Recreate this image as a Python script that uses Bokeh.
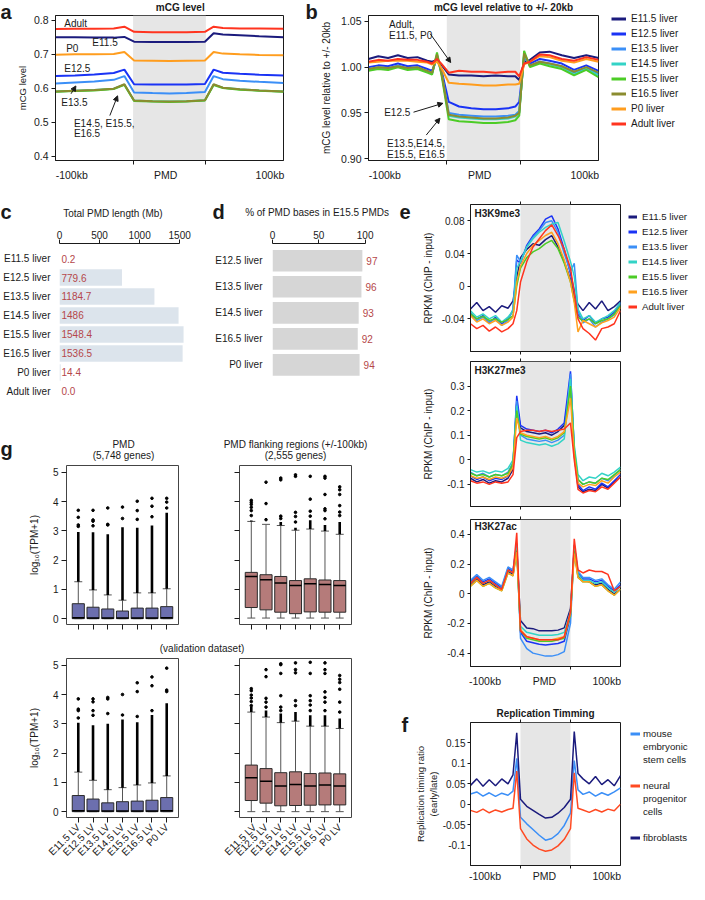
import math
from bokeh.plotting import figure
from bokeh.models import (Range1d, FixedTicker, LinearAxis, Label, Legend, LegendItem,
                          BoxAnnotation, Arrow, NormalHead, Div, Spacer)
from bokeh.layouts import row, column
from bokeh.core.properties import value
from bokeh.embed import file_html
from bokeh.resources import INLINE

FONT = "Liberation Sans"
INK = "#1a1a1a"
SHADE = "#e6e6e6"
VAL_RED = "#b5474a"

# ======================= DATA =======================
# ---- panels a / b : mCG profiles (profile bins; PMD covers bins 16..31) ----
PMD_A = (16, 31)
XA = [0, 4, 8, 12, 14.2, 16.2, 20, 23.5, 27, 30.8, 32.6, 34.5, 38, 42, 47]
mcg_e115 = [0.750, 0.750, 0.749, 0.749, 0.751, 0.737, 0.736, 0.736, 0.736, 0.737, 0.762, 0.758, 0.756, 0.753, 0.750]
mcg_e125 = [0.636, 0.638, 0.641, 0.645, 0.655, 0.612, 0.611, 0.611, 0.611, 0.613, 0.655, 0.646, 0.643, 0.640, 0.638]
mcg_e135 = [0.614, 0.617, 0.620, 0.625, 0.636, 0.588, 0.586, 0.585, 0.586, 0.589, 0.636, 0.627, 0.622, 0.619, 0.616]
mcg_e145 = [0.591, 0.593, 0.595, 0.599, 0.611, 0.564, 0.562, 0.561, 0.562, 0.565, 0.611, 0.602, 0.597, 0.594, 0.591]
mcg_e155 = [0.590, 0.592, 0.594, 0.598, 0.610, 0.563, 0.561, 0.560, 0.561, 0.564, 0.610, 0.601, 0.596, 0.593, 0.590]
mcg_e165 = [0.591, 0.593, 0.595, 0.599, 0.612, 0.564, 0.562, 0.561, 0.562, 0.565, 0.612, 0.602, 0.597, 0.594, 0.591]
mcg_p0 = [0.699, 0.700, 0.700, 0.701, 0.707, 0.682, 0.681, 0.680, 0.681, 0.682, 0.707, 0.702, 0.700, 0.698, 0.697]
mcg_adult = [0.774, 0.775, 0.775, 0.776, 0.781, 0.766, 0.765, 0.765, 0.765, 0.766, 0.781, 0.777, 0.776, 0.776, 0.775]

XB = [0, 2, 4, 6, 8, 10, 12, 13, 14, 15, 16.4, 18.5, 21, 23.5, 26, 28.5, 30, 30.8, 31.8, 33, 35, 37, 39.5, 42, 44.5, 47]
rel_e115 = [1.009, 1.012, 1.010, 1.013, 1.010, 1.011, 1.007, 1.006, 1.008, 1.002, 0.992, 0.991, 0.991, 0.990, 0.991, 0.990, 0.990, 0.986, 1.005, 1.008, 1.016, 1.017, 1.013, 1.010, 1.013, 1.010]
rel_e125 = [1.000, 1.002, 1.001, 1.004, 1.001, 1.002, 0.998, 0.996, 1.010, 0.995, 0.962, 0.957, 0.955, 0.954, 0.954, 0.955, 0.957, 0.962, 1.010, 1.004, 1.009, 1.007, 1.004, 0.997, 1.002, 0.996]
rel_e135 = [0.998, 1.000, 0.999, 1.002, 0.999, 1.000, 0.996, 0.994, 1.012, 0.992, 0.950, 0.948, 0.947, 0.946, 0.946, 0.947, 0.948, 0.952, 1.013, 1.002, 1.006, 1.004, 1.001, 0.994, 0.999, 0.993]
rel_e145 = [0.997, 0.999, 0.998, 1.001, 0.998, 0.999, 0.995, 0.993, 1.012, 0.991, 0.947, 0.945, 0.944, 0.943, 0.943, 0.944, 0.946, 0.950, 1.014, 1.001, 1.005, 1.003, 1.000, 0.992, 0.998, 0.991]
rel_e155 = [0.996, 0.998, 0.997, 1.000, 0.997, 0.998, 0.994, 0.992, 1.016, 0.989, 0.943, 0.941, 0.940, 0.939, 0.939, 0.940, 0.942, 0.947, 1.018, 1.000, 1.004, 1.001, 0.998, 0.991, 0.997, 0.989]
rel_e165 = [0.998, 1.000, 0.999, 1.001, 0.999, 1.000, 0.996, 0.994, 1.014, 0.992, 0.948, 0.946, 0.945, 0.944, 0.944, 0.945, 0.947, 0.950, 1.015, 1.002, 1.006, 1.004, 1.001, 0.995, 1.000, 0.994]
rel_p0 = [1.005, 1.006, 1.007, 1.007, 1.007, 1.006, 1.005, 1.003, 1.006, 0.998, 0.983, 0.982, 0.981, 0.980, 0.980, 0.981, 0.981, 0.982, 1.003, 1.006, 1.012, 1.011, 1.007, 1.005, 1.009, 1.006]
rel_adult = [1.006, 1.008, 1.007, 1.009, 1.008, 1.008, 1.006, 1.004, 1.009, 1.003, 0.994, 0.996, 0.995, 0.995, 0.994, 0.995, 0.995, 0.990, 1.004, 1.006, 1.014, 1.013, 1.009, 1.007, 1.011, 1.008]

stages_ab = ["E11.5 liver", "E12.5 liver", "E13.5 liver", "E14.5 liver", "E15.5 liver",
             "E16.5 liver", "P0 liver", "Adult liver"]

# ---- panel c ----
pmd_len_samples = ["E11.5 liver", "E12.5 liver", "E13.5 liver", "E14.5 liver", "E15.5 liver",
                   "E16.5 liver", "P0 liver", "Adult liver"]
pmd_len_mb = [0.2, 779.6, 1184.7, 1486, 1548.4, 1536.5, 14.4, 0.0]
pmd_len_text = ["0.2", "779.6", "1184.7", "1486", "1548.4", "1536.5", "14.4", "0.0"]

# ---- panel d ----
overlap_samples = ["E12.5 liver", "E13.5 liver", "E14.5 liver", "E16.5 liver", "P0 liver"]
overlap_pct = [97, 96, 93, 92, 94]

# ---- panels e / f : profiles (bins; PMD covers 20..40) ----
PMD_E = (20, 40)
XE = [0, 2.5, 5, 7.5, 10, 12.5, 15, 17, 18.5, 20, 22.5, 25, 27.5, 30, 32.5, 35, 37.5, 40,
      41.5, 43, 45, 47.5, 50, 52.5, 55, 57.5, 60]
stages_e = ["E11.5 liver", "E12.5 liver", "E13.5 liver", "E14.5 liver", "E15.5 liver",
            "E16.5 liver", "Adult liver"]

k9_e115 = [-0.028, -0.020, -0.030, -0.025, -0.032, -0.024, -0.027, -0.018, 0.010, 0.035, 0.045, 0.052, 0.050, 0.057, 0.062, 0.048, 0.030, 0.008, -0.012, -0.022, -0.030, -0.020, -0.028, -0.018, -0.030, -0.025, -0.018]
k9_e125 = [-0.035, -0.040, -0.036, -0.045, -0.038, -0.046, -0.040, -0.030, 0.032, 0.028, 0.050, 0.062, 0.070, 0.082, 0.086, 0.070, 0.045, 0.015, -0.005, -0.035, -0.042, -0.036, -0.046, -0.040, -0.038, -0.032, -0.020]
k9_e135 = [-0.032, -0.042, -0.038, -0.044, -0.040, -0.048, -0.042, -0.028, 0.038, 0.030, 0.048, 0.060, 0.068, 0.078, 0.080, 0.066, 0.040, 0.018, 0.028, -0.030, -0.045, -0.040, -0.050, -0.044, -0.040, -0.035, -0.022]
k9_e145 = [-0.030, -0.038, -0.034, -0.040, -0.036, -0.044, -0.038, -0.030, 0.022, 0.030, 0.048, 0.058, 0.066, 0.072, 0.076, 0.078, 0.055, 0.030, 0.012, -0.028, -0.040, -0.036, -0.044, -0.040, -0.036, -0.030, -0.020]
k9_e155 = [-0.034, -0.040, -0.037, -0.042, -0.040, -0.044, -0.041, -0.036, 0.000, 0.022, 0.035, 0.042, 0.046, 0.052, 0.056, 0.046, 0.028, 0.005, -0.018, -0.038, -0.043, -0.040, -0.046, -0.042, -0.040, -0.034, -0.024]
k9_e165 = [-0.036, -0.044, -0.040, -0.046, -0.042, -0.048, -0.044, -0.038, 0.005, 0.025, 0.040, 0.050, 0.056, 0.062, 0.066, 0.052, 0.032, 0.005, -0.020, -0.056, -0.042, -0.046, -0.050, -0.045, -0.042, -0.038, -0.026]
k9_adult = [-0.046, -0.052, -0.048, -0.055, -0.050, -0.056, -0.052, -0.046, -0.030, 0.005, 0.030, 0.048, 0.058, 0.068, 0.075, 0.062, 0.045, 0.022, -0.008, -0.040, -0.052, -0.058, -0.066, -0.052, -0.050, -0.046, -0.030]

k27m_e115 = [-0.075, -0.090, -0.080, -0.095, -0.085, -0.090, -0.075, -0.040, 0.230, 0.130, 0.115, 0.110, 0.105, 0.110, 0.100, 0.115, 0.140, 0.310, 0.020, -0.110, -0.130, -0.120, -0.125, -0.100, -0.115, -0.090, -0.070]
k27m_e125 = [-0.065, -0.080, -0.070, -0.085, -0.075, -0.080, -0.065, -0.020, 0.260, 0.140, 0.125, 0.120, 0.115, 0.120, 0.110, 0.125, 0.150, 0.360, 0.040, -0.100, -0.125, -0.110, -0.120, -0.095, -0.110, -0.085, -0.060]
k27m_e135 = [-0.050, -0.065, -0.055, -0.070, -0.060, -0.065, -0.050, -0.010, 0.240, 0.100, 0.085, 0.080, 0.075, 0.080, 0.070, 0.080, 0.100, 0.350, 0.050, -0.080, -0.100, -0.090, -0.095, -0.075, -0.085, -0.065, -0.040]
k27m_e145 = [-0.040, -0.050, -0.045, -0.055, -0.045, -0.050, -0.035, 0.000, 0.220, 0.080, 0.070, 0.065, 0.060, 0.065, 0.055, 0.065, 0.085, 0.330, 0.060, -0.060, -0.085, -0.070, -0.075, -0.055, -0.065, -0.050, -0.030]
k27m_e155 = [-0.055, -0.065, -0.060, -0.070, -0.060, -0.065, -0.055, -0.015, 0.200, 0.105, 0.095, 0.090, 0.085, 0.090, 0.080, 0.090, 0.110, 0.300, 0.040, -0.080, -0.100, -0.090, -0.095, -0.075, -0.080, -0.060, -0.040]
k27m_e165 = [-0.065, -0.075, -0.070, -0.080, -0.070, -0.075, -0.065, -0.030, 0.170, 0.110, 0.100, 0.095, 0.090, 0.095, 0.085, 0.095, 0.115, 0.250, 0.020, -0.095, -0.110, -0.100, -0.105, -0.085, -0.095, -0.070, -0.050]
k27m_adult = [-0.085, -0.095, -0.090, -0.100, -0.090, -0.095, -0.090, -0.060, 0.090, 0.115, 0.120, 0.120, 0.115, 0.120, 0.115, 0.120, 0.125, 0.150, 0.000, -0.120, -0.135, -0.125, -0.130, -0.110, -0.120, -0.095, -0.070]

k27a_e115 = [0.06, 0.10, 0.06, 0.08, 0.05, 0.03, 0.15, 0.13, 0.30, -0.18, -0.23, -0.235, -0.25, -0.25, -0.25, -0.245, -0.23, -0.10, 0.30, 0.12, 0.09, 0.08, 0.06, 0.07, 0.03, 0.00, 0.03]
k27a_e125 = [0.08, 0.12, 0.08, 0.10, 0.07, 0.04, 0.17, 0.15, 0.34, -0.26, -0.32, -0.33, -0.34, -0.345, -0.34, -0.335, -0.32, -0.15, 0.33, 0.14, 0.10, 0.10, 0.08, 0.09, 0.05, 0.02, 0.06]
k27a_e135 = [0.09, 0.13, 0.09, 0.11, 0.08, 0.05, 0.18, 0.16, 0.33, -0.30, -0.37, -0.40, -0.41, -0.42, -0.42, -0.41, -0.39, -0.20, 0.32, 0.15, 0.11, 0.11, 0.09, 0.10, 0.06, 0.03, 0.08]
k27a_e145 = [0.07, 0.11, 0.07, 0.09, 0.06, 0.03, 0.16, 0.14, 0.31, -0.22, -0.26, -0.27, -0.28, -0.28, -0.28, -0.275, -0.26, -0.12, 0.31, 0.13, 0.09, 0.09, 0.07, 0.08, 0.04, 0.01, 0.05]
k27a_e155 = [0.05, 0.09, 0.05, 0.07, 0.04, 0.02, 0.14, 0.12, 0.29, -0.25, -0.30, -0.31, -0.32, -0.32, -0.32, -0.31, -0.30, -0.14, 0.29, 0.11, 0.08, 0.08, 0.05, 0.06, 0.02, -0.01, 0.03]
k27a_e165 = [0.05, 0.09, 0.05, 0.07, 0.04, 0.02, 0.14, 0.12, 0.28, -0.24, -0.29, -0.30, -0.31, -0.31, -0.31, -0.30, -0.29, -0.13, 0.27, 0.11, 0.08, 0.08, 0.05, 0.06, 0.02, -0.01, 0.03]
k27a_adult = [0.07, 0.11, 0.07, 0.09, 0.06, 0.03, 0.16, 0.14, 0.41, -0.25, -0.29, -0.30, -0.31, -0.31, -0.31, -0.31, -0.29, -0.12, 0.37, 0.16, 0.14, 0.16, 0.15, 0.15, 0.13, 0.02, 0.05]

rt_legend_lines = ["mouse", "embryonic", "stem cells", " ", "neural", "progenitor", "cells", " ", "fibroblasts"]
rt_mesc = [0.025, 0.030, 0.020, 0.028, 0.019, 0.027, 0.022, 0.032, 0.112, -0.032, -0.048, -0.062, -0.076, -0.088, -0.084, -0.072, -0.052, -0.022, 0.107, 0.035, 0.024, 0.030, 0.020, 0.028, 0.022, 0.030, 0.040]
rt_npc = [-0.015, -0.020, -0.012, -0.021, -0.014, -0.019, -0.013, -0.010, 0.081, -0.060, -0.085, -0.100, -0.110, -0.115, -0.112, -0.102, -0.086, -0.060, 0.077, -0.010, -0.014, -0.020, -0.013, -0.019, -0.012, -0.016, 0.000]
rt_fibro = [0.046, 0.062, 0.044, 0.060, 0.045, 0.062, 0.050, 0.072, 0.175, 0.012, -0.005, -0.015, -0.025, -0.034, -0.032, -0.022, -0.008, 0.012, 0.178, 0.075, 0.062, 0.050, 0.068, 0.048, 0.060, 0.045, 0.070]

# ---- panel g : box plots (log10 TPM+1) ----
g_samples = ["E11.5 LV", "E12.5 LV", "E13.5 LV", "E14.5 LV", "E15.5 LV", "E16.5 LV", "P0 LV"]

pmd_q1 = [0, 0, 0, 0, 0, 0, 0]
pmd_med = [0.03, 0.02, 0.02, 0.02, 0.02, 0.02, 0.03]
pmd_q3 = [0.51, 0.39, 0.33, 0.26, 0.36, 0.36, 0.41]
pmd_lo = [0, 0, 0, 0, 0, 0, 0]
pmd_hi = [1.26, 0.98, 0.81, 0.63, 0.88, 0.88, 1.02]
pmd_dense = [2.96, 2.95, 2.88, 3.12, 3.10, 3.18, 3.62]
pmd_out = [[3.15, 3.2, 3.46, 3.7], [3.17, 3.33, 3.37, 3.7], [3.2, 3.22, 3.78], [3.42, 3.81],
           [3.39, 3.69, 4.01], [3.48, 3.84, 4.11], [3.78, 3.98, 4.11]]

fl_q1 = [0.38, 0.30, 0.22, 0.17, 0.23, 0.22, 0.22]
fl_med = [1.44, 1.33, 1.22, 1.13, 1.19, 1.17, 1.13]
fl_q3 = [1.58, 1.50, 1.44, 1.30, 1.36, 1.32, 1.30]
fl_lo = [0.02, 0.02, 0.02, 0.02, 0.02, 0.02, 0.02]
fl_hi = [3.32, 3.22, 3.18, 3.02, 3.06, 2.99, 2.88]
fl_dense = [3.35, 3.22, 3.30, 3.10, 3.36, 3.20, 3.30]
fl_out = [[3.52, 3.69, 3.80, 3.90, 3.97, 4.04], [3.38, 3.93, 4.66], [3.42, 3.50, 4.74, 4.80],
          [3.30, 3.49, 3.63, 4.86, 4.91], [3.50, 3.67, 4.08, 4.86],
          [3.41, 3.69, 3.75, 4.24, 4.80, 4.86], [3.52, 3.64, 3.86, 4.24, 4.40, 4.50]]

vpmd_q1 = [0, 0, 0, 0, 0, 0, 0]
vpmd_med = [0.03, 0.02, 0.02, 0.02, 0.02, 0.02, 0.03]
vpmd_q3 = [0.55, 0.43, 0.30, 0.34, 0.36, 0.39, 0.48]
vpmd_lo = [0, 0, 0, 0, 0, 0, 0]
vpmd_hi = [1.35, 1.07, 0.75, 0.82, 0.91, 0.98, 1.22]
vpmd_dense = [3.04, 2.95, 3.00, 3.15, 3.05, 3.30, 3.70]
vpmd_out = [[3.20, 3.45, 3.50, 3.85], [3.29, 3.45, 3.75, 3.85], [3.35, 3.85, 3.90], [3.30, 4.00],
            [3.25, 4.10, 4.40], [3.45, 4.30, 4.60], [4.10, 4.15, 4.90]]

vfl_q1 = [0.38, 0.29, 0.20, 0.21, 0.22, 0.23, 0.23]
vfl_med = [1.16, 1.04, 0.88, 0.93, 0.88, 0.91, 0.88]
vfl_q3 = [1.59, 1.47, 1.33, 1.36, 1.30, 1.32, 1.29]
vfl_lo = [0, 0, 0, 0, 0, 0, 0]
vfl_hi = [3.40, 3.23, 3.04, 3.09, 2.92, 2.92, 2.84]
vfl_dense = [3.57, 3.45, 3.35, 3.40, 3.29, 3.29, 3.18]
vfl_out = [[3.62, 3.76, 3.88, 3.98, 4.13, 4.20], [3.57, 3.74, 3.87, 4.61, 4.85],
           [3.45, 3.57, 3.96, 4.72, 5.02, 5.05], [3.62, 3.79, 4.74, 4.85, 5.08],
           [3.45, 3.64, 3.79, 3.96, 4.72, 5.10], [3.45, 3.74, 3.90, 4.09, 4.72, 4.85, 5.08],
           [3.40, 3.74, 4.18, 4.41, 4.52, 4.65]]

for arr in [mcg_e115, mcg_e125, mcg_e135, mcg_e145, mcg_e155, mcg_e165, mcg_p0, mcg_adult]:
    assert len(arr) == len(XA)
for arr in [rel_e115, rel_e125, rel_e135, rel_e145, rel_e155, rel_e165, rel_p0, rel_adult]:
    assert len(arr) == len(XB)
for arr in [k9_e115, k9_e125, k9_e135, k9_e145, k9_e155, k9_e165, k9_adult,
            k27m_e115, k27m_e125, k27m_e135, k27m_e145, k27m_e155, k27m_e165, k27m_adult,
            k27a_e115, k27a_e125, k27a_e135, k27a_e145, k27a_e155, k27a_e165, k27a_adult,
            rt_mesc, rt_npc, rt_fibro]:
    assert len(arr) == len(XE)

# ======================= STYLE =======================
C_E115 = "#1b1b7d"
C_E125 = "#1a33f5"
C_E135 = "#3b8ff7"
C_E145 = "#33d3c6"
C_E155 = "#4ccc26"
C_E165 = "#8b8c2f"
C_E165_E = "#ffa11f"
C_P0 = "#ff9d1e"
C_AD = "#ff341f"
COL_AB = [C_E115, C_E125, C_E135, C_E145, C_E155, C_E165, C_P0, C_AD]
COL_E = [C_E115, C_E125, C_E135, C_E145, C_E155, C_E165_E, C_AD]
COL_F = ["#3b8ff7", "#ff4a22", "#1b1b7d"]
BOX_BLUE = "#6c6fae"
BOX_BROWN = "#b57b7a"

# figure geometry (canvas position in page content, borders)
G = {
    "a":   dict(x0=13,  y0=15,  w=287, h=185, l=40, r=17, t=0,  b=40),
    "b":   dict(x0=318, y0=15,  w=281, h=185, l=50, r=1,  t=0,  b=40),
    "c":   dict(x0=0,   y0=222, w=212, h=208, l=57, r=28, t=18, b=30),
    "d":   dict(x0=212, y0=222, w=186, h=208, l=54, r=15, t=21, b=30),
    "gtl": dict(x0=0,   y0=462, w=222, h=178, l=66, r=44, t=3,  b=16),
    "gtr": dict(x0=222, y0=462, w=176, h=178, l=17, r=47, t=3,  b=16),
    "gbl": dict(x0=0,   y0=656, w=222, h=228, l=66, r=44, t=2,  b=67),
    "gbr": dict(x0=222, y0=656, w=176, h=228, l=17, r=47, t=2,  b=67),
    "e1":  dict(x0=411, y0=200, w=210, h=156, l=54, r=1,  t=4,  b=5),
    "e2":  dict(x0=411, y0=356, w=210, h=156, l=54, r=1,  t=5,  b=6),
    "e3":  dict(x0=411, y0=512, w=210, h=188, l=54, r=1,  t=7,  b=34),
    "f":   dict(x0=411, y0=700, w=210, h=184, l=54, r=1,  t=22, b=17),
}
# text strips / legend boxes: plain canvases (frame == canvas)
S = {
    "leta": dict(x0=0,   y0=0,   w=13,  h=200),
    "topa": dict(x0=13,  y0=0,   w=287, h=15),
    "letb": dict(x0=300, y0=0,   w=18,  h=200),
    "topb": dict(x0=318, y0=0,   w=281, h=15),
    "legb": dict(x0=599, y0=0,   w=90,  h=200),
    "cd":   dict(x0=0,   y0=200, w=398, h=22),
    "g":    dict(x0=0,   y0=430, w=398, h=32),
    "ef":   dict(x0=398, y0=200, w=13,  h=684),
    "lege": dict(x0=621, y0=200, w=68,  h=156),
    "legf": dict(x0=621, y0=700, w=68,  h=184),
}
LETTER_MID = 6.9  # distance baseline -> middle for the 20px panel letters


def mkfig(g, xr, yr, outline=True, x_loc="below"):
    p = figure(width=g["w"], height=g["h"], x_range=xr, y_range=yr,
               min_border_left=g["l"], min_border_right=g["r"],
               min_border_top=g["t"], min_border_bottom=g["b"],
               toolbar_location=None, tools="", output_backend="svg",
               x_axis_location=x_loc)
    p.xgrid.visible = False
    p.ygrid.visible = False
    p.outline_line_color = INK if outline else None
    p.outline_line_width = 1
    p.border_fill_color = "white"
    p.background_fill_color = "white"
    return p


def mkstrip(s):
    p = figure(width=s["w"], height=s["h"], x_range=Range1d(0, s["w"]), y_range=Range1d(s["h"], 0),
               min_border=0, min_border_left=0, min_border_right=0, min_border_top=0,
               min_border_bottom=0, x_axis_location=None, y_axis_location=None,
               toolbar_location=None, tools="", output_backend="svg")
    p.outline_line_color = None
    p.xgrid.visible = False
    p.ygrid.visible = False
    p.border_fill_color = "white"
    p.background_fill_color = "white"
    return p


def stext(p, s, text, cx, cy, size="10px", bold=False, align="left"):
    p.add_layout(Label(x=cx - s["x0"], y=cy - s["y0"], text=text, text_font=FONT,
                       text_font_size=size, text_font_style="bold" if bold else "normal",
                       text_align=align, text_baseline="middle", text_color=INK))


def letter(p, s, text, cx, baseline_y):
    stext(p, s, text, cx, baseline_y - LETTER_MID, size="20px", bold=True)


def axstyle(ax, size="10px"):
    ax.major_label_text_font = FONT
    ax.major_label_text_font_size = size
    ax.major_label_text_color = INK
    ax.axis_label_text_font = FONT
    ax.axis_label_text_font_style = "normal"
    ax.axis_label_text_color = INK
    ax.axis_line_color = INK
    ax.major_tick_line_color = INK
    ax.minor_tick_line_color = INK
    ax.major_tick_in = 0
    ax.minor_tick_in = 0


def put(p, g, text, cx, cy, size="10px", bold=False, align="left"):
    # label inside the frame, given page-content coordinates
    sx = cx - (g["x0"] + g["l"])
    sy = (g["y0"] + g["h"] - g["b"]) - cy
    p.add_layout(Label(x=sx, y=sy, x_units="screen", y_units="screen", text=text,
                       text_font=FONT, text_font_size=size,
                       text_font_style="bold" if bold else "normal",
                       text_align=align, text_baseline="middle", text_color=INK))


def dlabel(p, text, x, y):
    p.add_layout(Label(x=x, y=y, text=text, text_font=FONT, text_font_size="10px",
                       text_align="left", text_baseline="middle", text_color=INK))


def darrow(p, x0, y0, x1, y1):
    p.add_layout(Arrow(end=NormalHead(size=5, fill_color=INK, line_color=INK, line_width=1),
                       x_start=x0, y_start=y0, x_end=x1, y_end=y1,
                       line_color=INK, line_width=1))


def legend_box(s, labels, colors, vx, first_center_y, glyph_w, item_h=15, standoff=5,
               size="10px", line_w=3):
    p = mkstrip(s)
    rends = []
    for c in colors:
        # swatch-only renderers (a single anchor point draws no line in the box itself)
        if c is None:
            rends.append(p.line(x=[0], y=[0], line_alpha=0))
        else:
            rends.append(p.line(x=[0], y=[0], line_color=c, line_width=line_w))
    items = [LegendItem(label=l, renderers=[r]) for l, r in zip(labels, rends)]
    n = len(items)
    top = first_center_y - s["y0"] - item_h / 2.0
    vy = s["h"] - top - n * item_h
    lg = Legend(items=items, location=(vx - s["x0"], vy), orientation="vertical", padding=0,
                margin=0, spacing=0, glyph_width=glyph_w, glyph_height=item_h,
                label_height=item_h, label_standoff=standoff, label_text_font=FONT,
                label_text_font_size=size, label_text_color=INK, border_line_color=None,
                background_fill_alpha=0.0)
    p.add_layout(lg)
    return p


def profile_xaxis(p, pmd, label_ticks, labels, standoff, size="10.5px", tick_len=4):
    xa = p.xaxis[0]
    axstyle(xa, size)
    xa.ticker = FixedTicker(ticks=label_ticks, minor_ticks=list(pmd))
    if labels:
        xa.major_label_overrides = dict(zip(label_ticks, labels))
    xa.major_tick_out = 0
    xa.minor_tick_out = tick_len
    xa.major_label_standoff = standoff


# ======================= TEXT STRIPS =======================
st_leta = mkstrip(S["leta"])
letter(st_leta, S["leta"], "a", 0, 18)
st_topa = mkstrip(S["topa"])
stext(st_topa, S["topa"], "mCG level", 170, 6.5, bold=True, align="center")
st_letb = mkstrip(S["letb"])
letter(st_letb, S["letb"], "b", 305, 18)
st_topb = mkstrip(S["topb"])
stext(st_topb, S["topb"], "mCG level relative to +/- 20kb", 483, 6.5, bold=True, align="center")

st_cd = mkstrip(S["cd"])
letter(st_cd, S["cd"], "c", 0, 218)
stext(st_cd, S["cd"], "Total PMD length (Mb)", 112.4, 213, align="center")
letter(st_cd, S["cd"], "d", 212, 218)
stext(st_cd, S["cd"], "% of PMD bases in E15.5 PMDs", 316.6, 212, align="center")

st_g = mkstrip(S["g"])
letter(st_g, S["g"], "g", 0, 455.5)
stext(st_g, S["g"], "PMD", 123, 443.5, align="center")
stext(st_g, S["g"], "(5,748 genes)", 123, 454.5, align="center")
stext(st_g, S["g"], "PMD flanking regions (+/-100kb)", 295, 443.5, align="center")
stext(st_g, S["g"], "(2,555 genes)", 295, 454.5, align="center")

st_ef = mkstrip(S["ef"])
letter(st_ef, S["ef"], "e", 399, 218)
letter(st_ef, S["ef"], "f", 401, 731.5)

# ======================= PANEL a =======================
ga = G["a"]
fa = mkfig(ga, Range1d(0, 47), Range1d(0.388, 0.814))
fa.add_layout(BoxAnnotation(left=PMD_A[0], right=PMD_A[1], fill_color=SHADE, fill_alpha=1.0,
                            line_color=None, level="underlay"))
for ys, col in zip([mcg_e115, mcg_e125, mcg_e135, mcg_e145, mcg_e155, mcg_e165, mcg_p0, mcg_adult], COL_AB):
    fa.line(XA, ys, line_color=col, line_width=2)
profile_xaxis(fa, PMD_A, [3.35, 22.7, 44.2], ["-100kb", "PMD", "100kb"], 4)
ya = fa.yaxis[0]
axstyle(ya, "10.5px")
ya.ticker = FixedTicker(ticks=[0.4, 0.5, 0.6, 0.7, 0.8])
ya.major_label_overrides = {0.4: "0.4", 0.5: "0.5", 0.6: "0.6", 0.7: "0.7", 0.8: "0.8"}
ya.major_tick_out = 4
ya.major_label_standoff = 3
ya.axis_label = "mCG level"
ya.axis_label_text_font_size = "9.5px"
ya.axis_label_standoff = 3
dlabel(fa, "Adult", 1.8, 0.791)
dlabel(fa, "E11.5", 7.6, 0.734)
dlabel(fa, "P0", 2.2, 0.716)
dlabel(fa, "E12.5", 1.8, 0.659)
dlabel(fa, "E13.5", 1.2, 0.558)
dlabel(fa, "E14.5, E15.5,", 3.8, 0.497)
dlabel(fa, "E16.5", 3.8, 0.466)
darrow(fa, 3.2, 0.584, 4.2, 0.607)
darrow(fa, 11.2, 0.520, 12.8, 0.578)

# ======================= PANEL b =======================
gb = G["b"]
fb = mkfig(gb, Range1d(0, 47), Range1d(0.898, 1.0565))
fb.add_layout(BoxAnnotation(left=PMD_A[0], right=PMD_A[1], fill_color=SHADE, fill_alpha=1.0,
                            line_color=None, level="underlay"))
for ys, col in zip([rel_e115, rel_e125, rel_e135, rel_e145, rel_e155, rel_e165, rel_p0, rel_adult], COL_AB):
    fb.line(XB, ys, line_color=col, line_width=2)
profile_xaxis(fb, PMD_A, [3.35, 22.7, 44.2], ["-100kb", "PMD", "100kb"], 4)
yb = fb.yaxis[0]
axstyle(yb, "10.5px")
yb.ticker = FixedTicker(ticks=[0.9, 0.95, 1.0, 1.05])
yb.major_label_overrides = {0.9: "0.90", 0.95: "0.95", 1.0: "1.00", 1.05: "1.05"}
yb.major_tick_out = 4
yb.major_label_standoff = 3
yb.axis_label = "mCG level relative to +/- 20kb"
yb.axis_label_text_font_size = "10px"
yb.axis_label_standoff = 6
dlabel(fb, "Adult,", 4.2, 1.0472)
dlabel(fb, "E11.5, P0", 4.2, 1.0345)
darrow(fb, 12.6, 1.0366, 16.8, 1.0051)
dlabel(fb, "E12.5", 3.2, 0.950)
darrow(fb, 9.2, 0.9508, 15.2, 0.9605)
dlabel(fb, "E13.5,E14.5,", 3.8, 0.9167)
dlabel(fb, "E15.5, E16.5", 3.8, 0.905)
darrow(fb, 11.8, 0.9258, 14.6, 0.9442)
leg_b = legend_box(S["legb"], stages_ab, COL_AB, 611, 18.7, 15, item_h=15)

# ======================= PANEL c =======================
gc = G["c"]
fc = mkfig(gc, Range1d(0, 1560), Range1d(7.475, -0.79), outline=False, x_loc="above")
cy = list(range(len(pmd_len_samples)))
fc.hbar(y=cy, left=0, right=pmd_len_mb, height=0.86, fill_color="#dce4ec", line_color=None)
fc.text(x=[0] * len(cy), y=cy, text=pmd_len_text, x_offset=2, text_font=value(FONT),
        text_font_size="10px", text_color=VAL_RED, text_baseline="middle", text_align="left")
xc = fc.xaxis[0]
axstyle(xc, "10px")
xc.ticker = FixedTicker(ticks=[0, 500, 1000, 1500])
xc.bounds = (0, 1500)
xc.major_tick_out = 4
xc.major_label_standoff = 1
xc.minor_tick_line_color = None
yc = fc.yaxis[0]
axstyle(yc, "10px")
yc.ticker = FixedTicker(ticks=cy)
yc.major_label_overrides = dict(zip(cy, pmd_len_samples))
yc.axis_line_color = None
yc.major_tick_line_color = None
yc.minor_tick_line_color = None
yc.major_label_standoff = 3

# ======================= PANEL d =======================
gd = G["d"]
fd = mkfig(gd, Range1d(0, 119.8), Range1d(5.37, -0.665), outline=False, x_loc="above")
dy = list(range(len(overlap_samples)))
fd.hbar(y=dy, left=0, right=overlap_pct, height=0.83, fill_color="#d6d6d6", line_color=None)
fd.text(x=overlap_pct, y=dy, text=[str(v) for v in overlap_pct], x_offset=4,
        text_font=value(FONT), text_font_size="10px", text_color=VAL_RED,
        text_baseline="middle", text_align="left")
xd = fd.xaxis[0]
axstyle(xd, "10px")
xd.ticker = FixedTicker(ticks=[0, 50, 100])
xd.bounds = (0, 100)
xd.major_tick_out = 4
xd.major_label_standoff = 1
xd.minor_tick_line_color = None
yd = fd.yaxis[0]
axstyle(yd, "10px")
yd.ticker = FixedTicker(ticks=dy)
yd.major_label_overrides = dict(zip(dy, overlap_samples))
yd.axis_line_color = None
yd.major_tick_line_color = None
yd.minor_tick_line_color = None
yd.major_label_standoff = 4


# ======================= PANELS e / f =======================
def eprofile(g, yrange, yticks, ylabels, series, colors, xlabels, xstandoff):
    p = mkfig(g, Range1d(0, 60), Range1d(*yrange))
    p.add_layout(BoxAnnotation(left=PMD_E[0], right=PMD_E[1], fill_color=SHADE, fill_alpha=1.0,
                               line_color=None, level="underlay"))
    for ys, c in zip(series, colors):
        p.line(XE, ys, line_color=c, line_width=1.5)
    if xlabels:
        profile_xaxis(p, PMD_E, [5.8, 29.6, 54.5], ["-100kb", "PMD", "100kb"], xstandoff, tick_len=3)
    else:
        profile_xaxis(p, PMD_E, [], None, 0, tick_len=3)
        p.xaxis[0].major_label_text_font_size = "0px"
    top = LinearAxis(ticker=FixedTicker(ticks=[], minor_ticks=list(PMD_E)))
    axstyle(top)
    top.axis_line_color = None
    top.major_tick_out = 0
    top.minor_tick_out = 3
    top.major_label_standoff = 0
    top.major_label_text_font_size = "0px"
    p.add_layout(top, "above")
    yy = p.yaxis[0]
    axstyle(yy, "10px")
    yy.ticker = FixedTicker(ticks=yticks)
    yy.major_label_overrides = dict(zip(yticks, ylabels))
    yy.major_tick_out = 3
    yy.major_label_standoff = 3
    return p


ge1, ge2, ge3, gf = G["e1"], G["e2"], G["e3"], G["f"]
e1 = eprofile(ge1, (-0.08, 0.1), [-0.04, 0, 0.04, 0.08], ["-0.04", "0", "0.04", "0.08"],
              [k9_e115, k9_e125, k9_e135, k9_e145, k9_e155, k9_e165, k9_adult], COL_E, False, 0)
e1.yaxis[0].axis_label = "RPKM (ChIP - input)"
e1.yaxis[0].axis_label_text_font_size = "10px"
e1.yaxis[0].axis_label_standoff = 5
put(e1, ge1, "H3K9me3", 469, 213, bold=True)

e2 = eprofile(ge2, (-0.19, 0.4), [-0.1, 0, 0.1, 0.2, 0.3], ["-0.1", "0", "0.1", "0.2", "0.3"],
              [k27m_e115, k27m_e125, k27m_e135, k27m_e145, k27m_e155, k27m_e165, k27m_adult], COL_E, False, 0)
e2.yaxis[0].axis_label = "RPKM (ChIP - input)"
e2.yaxis[0].axis_label_text_font_size = "10px"
e2.yaxis[0].axis_label_standoff = 10
put(e2, ge2, "H3K27me3", 469, 370, bold=True)

e3 = eprofile(ge3, (-0.49, 0.5), [-0.4, -0.2, 0, 0.2, 0.4], ["-0.4", "-0.2", "0", "0.2", "0.4"],
              [k27a_e115, k27a_e125, k27a_e135, k27a_e145, k27a_e155, k27a_e165, k27a_adult], COL_E, True, 5)
e3.yaxis[0].axis_label = "RPKM (ChIP - input)"
e3.yaxis[0].axis_label_text_font_size = "10px"
e3.yaxis[0].axis_label_standoff = 10
put(e3, ge3, "H3K27ac", 469, 525.5, bold=True)

ff = eprofile(gf, (-0.15, 0.2), [-0.1, -0.05, 0, 0.05, 0.1, 0.15],
              ["-0.1", "-0.05", "0", "0.05", "0.1", "0.15"],
              [rt_mesc, rt_npc, rt_fibro], COL_F, True, 1)
ff.yaxis[0].major_label_standoff = 2
ff.yaxis[0].axis_label = "Replication timing ratio\n(early/late)"
ff.yaxis[0].axis_label_text_font_size = "9.5px"
ff.yaxis[0].axis_label_standoff = 1
ff.title.text = "Replication Timming"
ff.title.align = "center"
ff.title.text_font = FONT
ff.title.text_font_size = "10px"
ff.title.text_font_style = "bold"
ff.title.text_color = INK
ff.title.standoff = 2

leg_e = legend_box(S["lege"], stages_e, COL_E, 628, 216.1, 9, item_h=15, size="9.7px")
# replication legend: coloured rows name the series, blank-swatch rows continue the wrapped names
leg_f = legend_box(S["legf"], rt_legend_lines,
                   [COL_F[0], None, None, None, COL_F[1], None, None, None, COL_F[2]],
                   630, 733.7, 10, item_h=13, standoff=3, size="9.7px")


# ======================= PANEL g =======================
def boxfig(g, q1, med, q3, lo, hi, dense, outs, fill, ylabels, xlabels):
    p = mkfig(g, Range1d(0.2, 7.8), Range1d(-0.2, 5.23))
    p.outline_line_color = "#444444"
    xs = list(range(1, len(q1) + 1))
    half_box, half_cap = 0.41, 0.27
    wcol = "#555555"
    p.segment(x0=xs, y0=lo, x1=xs, y1=q1, line_color=wcol, line_width=1)
    p.segment(x0=xs, y0=q3, x1=xs, y1=hi, line_color=wcol, line_width=1)
    p.segment(x0=[x - half_cap for x in xs], y0=lo, x1=[x + half_cap for x in xs], y1=lo,
              line_color=wcol, line_width=1)
    p.segment(x0=[x - half_cap for x in xs], y0=hi, x1=[x + half_cap for x in xs], y1=hi,
              line_color=wcol, line_width=1)
    p.segment(x0=xs, y0=hi, x1=xs, y1=dense, line_color="black", line_width=2.6)
    p.vbar(x=xs, bottom=q1, top=q3, width=2 * half_box, fill_color=fill,
           line_color="#2a2a2a", line_width=1)
    p.segment(x0=[x - half_box for x in xs], y0=med, x1=[x + half_box for x in xs], y1=med,
              line_color="black", line_width=1.5)
    ox = [x for x, o in zip(xs, outs) for _ in o]
    oy = [v for o in outs for v in o]
    p.scatter(x=ox, y=oy, size=2.6, marker="circle", color="black")
    xa = p.xaxis[0]
    axstyle(xa, "10px")
    xa.ticker = FixedTicker(ticks=xs)
    xa.axis_line_color = None
    xa.major_tick_out = 5
    xa.minor_tick_line_color = None
    if xlabels:
        xa.major_label_overrides = dict(zip(xs, g_samples))
        xa.major_label_orientation = math.pi / 4
        xa.major_label_standoff = 3
    else:
        xa.major_label_overrides = {x: "" for x in xs}
        xa.major_label_text_font_size = "0px"
        xa.major_label_standoff = 0
    ya_ = p.yaxis[0]
    axstyle(ya_, "10px")
    yt = [0, 1, 2, 3, 4, 5]
    ya_.ticker = FixedTicker(ticks=yt)
    ya_.axis_line_color = None
    ya_.major_tick_out = 5
    ya_.minor_tick_line_color = None
    if ylabels:
        ya_.major_label_standoff = 3
        ya_.axis_label = "log\u2081\u2080(TPM+1)"
        ya_.axis_label_text_font_size = "10px"
        ya_.axis_label_standoff = 10
    else:
        ya_.major_label_overrides = {v: "" for v in yt}
        ya_.major_label_text_font_size = "0px"
        ya_.major_label_standoff = 0
    return p


g_tl = boxfig(G["gtl"], pmd_q1, pmd_med, pmd_q3, pmd_lo, pmd_hi, pmd_dense, pmd_out, BOX_BLUE, True, False)
g_tr = boxfig(G["gtr"], fl_q1, fl_med, fl_q3, fl_lo, fl_hi, fl_dense, fl_out, BOX_BROWN, False, False)
g_bl = boxfig(G["gbl"], vpmd_q1, vpmd_med, vpmd_q3, vpmd_lo, vpmd_hi, vpmd_dense, vpmd_out, BOX_BLUE, True, True)
g_br = boxfig(G["gbr"], vfl_q1, vfl_med, vfl_q3, vfl_lo, vfl_hi, vfl_dense, vfl_out, BOX_BROWN, False, True)

vdiv = Div(text=('<div style="width:398px;text-align:center;padding-left:6px;box-sizing:border-box;'
                 'font-family:\'Liberation Sans\';font-size:10px;line-height:16px;color:#1a1a1a;">'
                 '(validation dataset)</div>'),
           width=398, height=16, margin=0)

# ======================= LAYOUT =======================
top_block = row(st_leta, column(st_topa, fa), st_letb, column(st_topb, fb), leg_b)
left_col = column(st_cd, row(fc, fd), st_g, row(g_tl, g_tr), vdiv, row(g_bl, g_br))
right_col = row(st_ef, column(e1, e2, e3, ff),
                column(leg_e, Spacer(width=68, height=344), leg_f))
root = column(top_block, row(left_col, right_col))

open("out.html", "w").write(file_html(root, INLINE, title="PMD figure"))
